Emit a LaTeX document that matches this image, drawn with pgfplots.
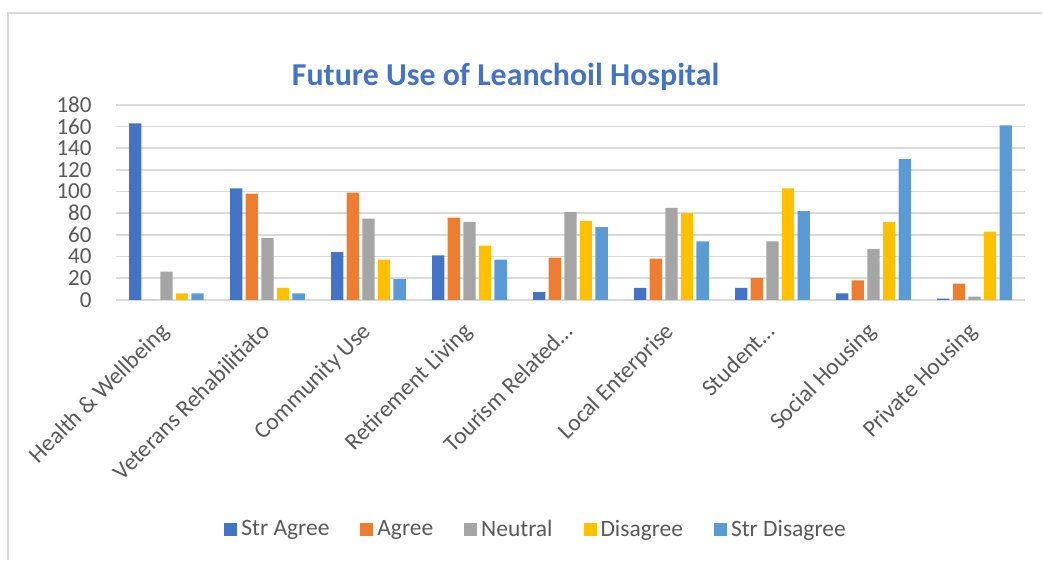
\documentclass[border=0pt]{standalone}
\usepackage{fontspec}
\setmainfont{Carlito}
\usepackage{pgfplots}
\usepackage{pgfplotstable}
\pgfplotsset{compat=1.18}
\definecolor{c1}{HTML}{4472C4}
\definecolor{c2}{HTML}{ED7D31}
\definecolor{c3}{HTML}{A5A5A5}
\definecolor{c4}{HTML}{FFC000}
\definecolor{c5}{HTML}{5B9BD5}
\definecolor{gridc}{HTML}{D9D9D9}
\definecolor{txt}{HTML}{595959}
\pgfplotstableread{
x SA A N D SD
0 163 0 26 6 6
1 103 98 57 11 6
2 44 99 75 37 19
3 41 76 72 50 37
4 7 39 81 73 67
5 11 38 85 80 54
6 11 20 54 103 82
7 6 18 47 72 130
8 1 15 3 63 161
}\datatable
\begin{document}
\begin{tikzpicture}
\begin{scope}[x=0.5bp,y=0.5bp]
\path (0,0) rectangle (1043,560);
\draw[gridc, line width=0.75bp] (8,0) -- (8,547) -- (1043,547);
\node[anchor=base, font=\fontsize{15.95bp}{18bp}\selectfont\bfseries, text=c1, inner sep=0pt] at (506,474) {Future Use of Leanchoil Hospital};
\end{scope}
\begin{axis}[
  at={(58bp,130bp)}, anchor=south west,
  scale only axis, width=454.85bp, height=97.5bp,
  ybar=1.65bp, bar width=6.15bp,
  xmin=-0.5, xmax=8.5, ymin=0, ymax=180,
  ytick={0,20,...,180},
  xtick={0,...,8},
  xticklabels={Health \& Wellbeing, Veterans Rehabilitiato, Community Use, Retirement Living, Tourism Related\ldots, Local Enterprise, Student\ldots, Social Housing, Private Housing},
  axis line style={draw=none},
  major tick length=0pt,
  ymajorgrids, grid style={gridc, line width=0.75bp},
  /pgf/number format/assume math mode=true,
  tick label style={font=\fontsize{11.5bp}{13bp}\selectfont, text=txt},
  yticklabel style={inner sep=0pt, xshift=-12bp},
  xticklabel style={font=\fontsize{11.8bp}{13bp}\selectfont, inner sep=0pt, xshift=-4bp, yshift=-10.5bp, rotate=45, anchor=north east},
  legend style={at={(0.4633,-1.179)}, anchor=center, draw=none, fill=none,
    font=\fontsize{11.75bp}{13bp}\selectfont, text=txt,
    /tikz/every even column/.append style={column sep=13.5bp}},
  legend columns=5,
  legend image code/.code={\fill[#1] (0bp,-3.25bp) rectangle (6.5bp,3.25bp);},
]
\addplot[fill=c1, draw=none] table[x=x, y=SA] {\datatable};
\addplot[fill=c2, draw=none] table[x=x, y=A] {\datatable};
\addplot[fill=c3, draw=none] table[x=x, y=N] {\datatable};
\addplot[fill=c4, draw=none] table[x=x, y=D] {\datatable};
\addplot[fill=c5, draw=none] table[x=x, y=SD] {\datatable};
\legend{Str Agree, Agree, Neutral, Disagree, Str Disagree}
\end{axis}
\end{tikzpicture}
\end{document}
